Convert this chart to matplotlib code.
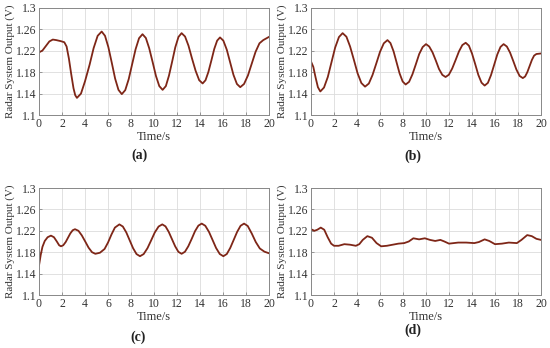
import matplotlib
matplotlib.use("Agg")
import matplotlib.pyplot as plt

plt.rcParams['font.family'] = ['Liberation Serif', 'DejaVu Serif']

# panel (a)
ta = [0, 0.3, 0.6, 0.9, 1.2, 1.5, 1.9, 2.2, 2.4, 2.6, 2.8, 3.0, 3.15, 3.3,
      3.65, 4.0, 4.4, 4.75, 5.1, 5.45, 5.74, 6.03, 6.33, 6.62, 6.91, 7.2,
      7.5, 7.8, 8.1, 8.4, 8.7, 9.0, 9.29, 9.58, 9.88, 10.17, 10.46, 10.75,
      11.03, 11.3, 11.58, 11.85, 12.13, 12.4, 12.7, 13.0, 13.3, 13.62, 13.93, 14.23,
      14.48, 14.73, 14.99, 15.24, 15.49, 15.74, 16.03, 16.33, 16.62, 16.91, 17.21, 17.5,
      17.83, 18.17, 18.5, 18.83, 19.17, 19.5, 19.75, 20]
ya = [1.217, 1.2205, 1.229, 1.2375, 1.241, 1.240, 1.238, 1.236, 1.228, 1.2055, 1.1766, 1.150, 1.137, 1.132,
      1.140, 1.163, 1.194, 1.225, 1.248, 1.256, 1.248, 1.227, 1.1975, 1.168, 1.147, 1.139,
      1.1465, 1.167, 1.195, 1.223, 1.2435, 1.251, 1.244, 1.225, 1.199, 1.173, 1.154, 1.147,
      1.154, 1.1735, 1.200, 1.2265, 1.246, 1.253, 1.2467, 1.2295, 1.206, 1.1825, 1.165, 1.159,
      1.165, 1.1805, 1.202, 1.2235, 1.239, 1.245, 1.239, 1.222, 1.1985, 1.175, 1.158, 1.152,
      1.158, 1.174, 1.196, 1.218, 1.234, 1.240, 1.243, 1.246]

# panel (b)
tb = [0, 0.2, 0.4, 0.6, 0.81, 1.13, 1.46, 1.78, 2.1, 2.43, 2.75,
      3.08, 3.4, 3.73, 4.05, 4.38, 4.7, 5.03, 5.35, 5.68, 6.0, 6.33, 6.65,
      6.91, 7.18, 7.44, 7.7, 7.97, 8.23, 8.53, 8.82, 9.12, 9.41, 9.71, 10.0,
      10.28, 10.57, 10.85, 11.13, 11.42, 11.7, 11.99, 12.28, 12.58, 12.87, 13.16, 13.45,
      13.73, 14.0, 14.28, 14.55, 14.83, 15.1, 15.38, 15.65, 15.93, 16.2, 16.48, 16.75,
      17.03, 17.31, 17.59, 17.86, 18.14, 18.42, 18.62, 18.81, 19.01, 19.21, 19.4, 19.6, 20]
yb = [1.200, 1.190, 1.170, 1.152, 1.144, 1.1513, 1.171, 1.1985, 1.226, 1.2457, 1.253,
      1.2463, 1.228, 1.203, 1.178, 1.1597, 1.153, 1.1588, 1.1748, 1.1965, 1.218, 1.234, 1.240,
      1.2344, 1.219, 1.1985, 1.178, 1.1626, 1.157, 1.162, 1.176, 1.195, 1.214, 1.227, 1.2325,
      1.228, 1.217, 1.202, 1.186, 1.175, 1.171, 1.1753, 1.187, 1.203, 1.219, 1.2307, 1.235,
      1.2296, 1.215, 1.195, 1.175, 1.1604, 1.155, 1.160, 1.1744, 1.194, 1.2131, 1.2273, 1.2325,
      1.228, 1.2166, 1.2008, 1.185, 1.173, 1.169, 1.172, 1.180, 1.1915, 1.203, 1.211, 1.214, 1.215]

# panel (c)
tc = [0, 0.15, 0.3, 0.5, 0.75, 1.04, 1.3, 1.55, 1.75, 1.91,
      2.11, 2.32, 2.52, 2.72, 2.93, 3.13, 3.43, 3.72, 4.02, 4.31, 4.61, 4.9,
      5.3, 5.7, 6.0, 6.3, 6.6, 6.99, 7.29, 7.59, 7.89, 8.18, 8.48, 8.78,
      9.1, 9.43, 9.75, 10.07, 10.4, 10.72, 11.0, 11.28, 11.56, 11.84, 12.12, 12.4,
      12.69, 12.98, 13.28, 13.57, 13.86, 14.15, 14.46, 14.78, 15.09, 15.4, 15.72, 16.03,
      16.33, 16.63, 16.93, 17.23, 17.53, 17.83, 18.15, 18.5, 18.85, 19.2, 19.6, 20]
yc = [1.155, 1.175, 1.190, 1.201, 1.208, 1.211, 1.208, 1.200, 1.193, 1.191,
      1.193, 1.199, 1.207, 1.215, 1.221, 1.223, 1.220, 1.2115, 1.200, 1.1885, 1.180, 1.177,
      1.179, 1.186, 1.198, 1.213, 1.226, 1.232, 1.228, 1.217, 1.202, 1.1875, 1.1765, 1.1725,
      1.1765, 1.1874, 1.202, 1.217, 1.228, 1.232, 1.2283, 1.218, 1.2045, 1.191, 1.1807, 1.177,
      1.1808, 1.191, 1.205, 1.2194, 1.2297, 1.2335, 1.2294, 1.218, 1.203, 1.1878, 1.1766, 1.1725,
      1.1766, 1.188, 1.203, 1.218, 1.2294, 1.2335, 1.229, 1.215, 1.199, 1.187, 1.181, 1.178]

# panel (d)
td = [0, 0.3, 0.55, 0.85, 1.15, 1.45, 1.75, 2.0, 2.4, 2.9, 3.4, 3.9, 4.2, 4.5, 4.9,
      5.3, 5.7, 6.1, 6.6, 7.1, 7.6, 8.1, 8.5, 8.9, 9.4, 9.9, 10.35, 10.8, 11.25, 11.6,
      12.0, 12.8, 13.5, 14.2, 14.6, 15.1, 15.5, 16.0, 16.6, 17.2, 17.9, 18.3, 18.8,
      19.2, 19.6, 20]
yd = [1.223, 1.220, 1.222, 1.226, 1.222, 1.208, 1.196, 1.192, 1.192, 1.195, 1.194, 1.192, 1.195, 1.203, 1.210,
      1.207, 1.197, 1.191, 1.192, 1.194, 1.196, 1.197, 1.200, 1.206, 1.204, 1.206, 1.203, 1.201, 1.203, 1.200,
      1.196, 1.198, 1.198, 1.197, 1.199, 1.204, 1.201, 1.195, 1.196, 1.198, 1.197, 1.203, 1.212,
      1.210, 1.205, 1.203]

yticks = [1.1, 1.14, 1.18, 1.22, 1.26, 1.3]
ytick_labels = ['1.1', '1.14', '1.18', '1.22', '1.26', '1.3']
xticks = list(range(0, 21, 2))
panel_names = ['(a)', '(b)', '(c)', '(d)']

fig = plt.figure(figsize=(5.5, 3.48), dpi=100)
W, H = 550, 348
boxes = [(39, 8), (311, 8), (39, 188), (311, 188)]   # left, top in px
name_pos = [(140, 155), (413, 156), (138, 337), (413, 330)]
series = [(ta, ya), (tb, yb), (tc, yc), (td, yd)]

for i in range(4):
    l, t = boxes[i]
    ax = fig.add_axes([l / W, 1 - (t + 107) / H, 230 / W, 107 / H])
    x, y = series[i]
    ax.plot(x, y, color='#7e2617', lw=1.3)
    ax.set_xlim(0, 20)
    ax.set_ylim(1.1, 1.3)
    ax.set_xticks(xticks)
    ax.set_yticks(yticks)
    ax.set_yticklabels(ytick_labels)
    ax.grid(True, color='#dcdcdc', lw=0.6)
    ax.set_axisbelow(True)
    ax.tick_params(direction='in', length=2.5, width=0.6, colors='#888888',
                   labelcolor='#333333', labelsize=8.5, pad=2)
    for s in ax.spines.values():
        s.set_color('#888888')
        s.set_linewidth(0.7)
    ax.set_xlabel('Time/s', fontsize=9, color='#333333', labelpad=1)
    ax.set_ylabel('Radar System Output (V)', fontsize=8, color='#333333', labelpad=0.5)
    nx, ny = name_pos[i]
    fig.text(nx / W, 1 - ny / H, panel_names[i], ha='center', va='center',
             fontsize=10, fontweight='bold', color='#222222')

fig.savefig('out.png', dpi=100)
